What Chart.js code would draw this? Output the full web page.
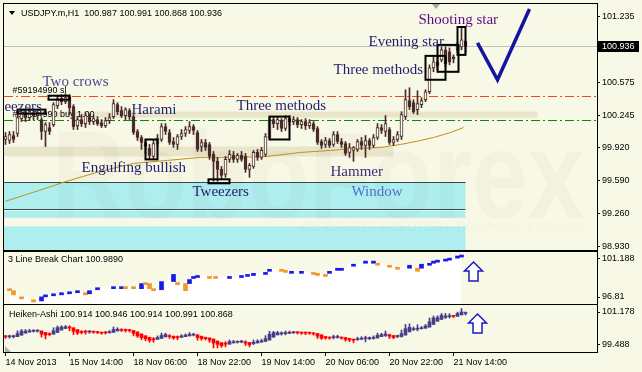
<!DOCTYPE html>
<html>
<head>
<meta charset="utf-8">
<script src="https://cdn.jsdelivr.net/npm/chart.js@4.4.0/dist/chart.umd.min.js"></script>
<style>
  html, body { margin: 0; padding: 0; background: #f8f8e6; }
  #wrap { position: relative; width: 642px; height: 372px; overflow: hidden; background: #f8f8e6; }
  #wrap canvas { position: absolute; left: 0; }
</style>
</head>
<body>
<div id="wrap">
  <canvas id="main" width="642" height="251" style="top:0"></canvas>
  <canvas id="lbreak" width="642" height="53" style="top:251px"></canvas>
  <canvas id="heiken" width="642" height="68" style="top:304px"></canvas>
</div>
<script>
// ---- data ----
const symbol = 'USDJPY.m,H1';
const timeLabels = ['14 Nov 2013', '15 Nov 14:00', '18 Nov 06:00', '18 Nov 22:00',
                    '19 Nov 14:00', '20 Nov 06:00', '20 Nov 22:00', '21 Nov 14:00'];
const barsPerLabel = 16;

const opens = [100.00, 99.99, 100.04, 100.06, 100.21, 100.27, 100.22, 100.27, 100.24, 100.20,
  100.08, 100.12, 100.15, 100.34, 100.41, 100.38, 100.43, 100.33, 100.14, 100.20,
  100.16, 100.23, 100.18, 100.20, 100.17, 100.14, 100.19, 100.23, 100.35, 100.29,
  100.24, 100.29, 100.23, 100.08, 100.02, 99.97, 99.91, 99.83, 99.96, 100.00,
  100.13, 100.07, 99.98, 99.95, 100.03, 100.06, 100.09, 100.13, 100.07, 99.93,
  99.97, 99.95, 99.85, 99.78, 99.70, 99.65, 99.80, 99.84, 99.80, 99.84,
  99.83, 99.70, 99.73, 99.87, 99.82, 99.85, 100.02, 100.20, 100.16, 100.19,
  100.11, 100.21, 100.18, 100.20, 100.15, 100.18, 100.14, 100.16, 100.11, 99.98,
  99.95, 99.99, 99.95, 100.05, 99.98, 99.96, 99.87, 99.89, 99.90, 99.98,
  99.94, 99.99, 99.94, 100.02, 100.12, 100.08, 100.10, 99.97, 100.00, 100.03,
  100.23, 100.39, 100.37, 100.30, 100.35, 100.40, 100.48, 100.72, 100.78, 100.80,
  100.90, 100.88, 100.83, 100.90, 100.93, 100.987];
const highs = [100.07, 100.08, 100.08, 100.25, 100.30, 100.30, 100.31, 100.30, 100.29, 100.22,
  100.17, 100.17, 100.37, 100.44, 100.45, 100.46, 100.45, 100.35, 100.23, 100.25,
  100.27, 100.26, 100.24, 100.23, 100.20, 100.22, 100.26, 100.40, 100.37, 100.33,
  100.32, 100.31, 100.25, 100.10, 100.04, 100.00, 99.95, 99.99, 100.05, 100.16,
  100.16, 100.10, 100.02, 100.05, 100.10, 100.13, 100.18, 100.15, 100.09, 100.00,
  100.00, 99.97, 99.88, 99.82, 99.73, 99.83, 99.89, 99.88, 99.86, 99.88,
  99.86, 99.76, 99.89, 99.90, 99.92, 100.06, 100.23, 100.23, 100.23, 100.21,
  100.24, 100.24, 100.23, 100.22, 100.20, 100.21, 100.20, 100.18, 100.13, 100.00,
  100.02, 100.01, 100.08, 100.08, 100.01, 99.98, 99.96, 99.93, 100.00, 100.02,
  100.04, 100.01, 100.05, 100.16, 100.15, 100.24, 100.12, 100.03, 100.08, 100.28,
  100.50, 100.52, 100.40, 100.49, 100.42, 100.50, 100.75, 100.83, 100.84, 100.93,
  100.93, 100.92, 100.85, 100.98, 101.12, 100.991];
const lows = [99.95, 99.96, 99.97, 100.03, 100.18, 100.18, 100.19, 100.20, 100.20, 100.00,
  99.93, 100.05, 100.13, 100.31, 100.35, 100.36, 100.25, 100.10, 100.10, 100.13,
  100.12, 100.15, 100.15, 100.14, 100.12, 100.12, 100.16, 100.21, 100.25, 100.22,
  100.20, 100.20, 100.05, 99.99, 99.90, 99.86, 99.80, 99.80, 99.93, 99.98,
  100.05, 99.95, 99.92, 99.90, 100.00, 100.03, 100.06, 100.05, 99.88, 99.88,
  99.89, 99.80, 99.58, 99.58, 99.60, 99.62, 99.77, 99.77, 99.77, 99.78,
  99.67, 99.62, 99.71, 99.79, 99.80, 99.83, 100.00, 100.12, 100.10, 100.08,
  100.09, 100.14, 100.15, 100.12, 100.11, 100.10, 100.11, 100.08, 99.95, 99.91,
  99.92, 99.92, 99.93, 99.96, 99.92, 99.84, 99.82, 99.78, 99.88, 99.90,
  99.82, 99.90, 99.92, 100.00, 100.06, 100.03, 99.95, 99.94, 99.98, 100.00,
  100.20, 100.30, 100.26, 100.25, 100.32, 100.38, 100.46, 100.68, 100.70, 100.78,
  100.73, 100.75, 100.77, 100.88, 100.90, 100.868];
const closes = [100.03, 100.05, 100.00, 100.22, 100.27, 100.22, 100.28, 100.24, 100.27, 100.08,
  100.15, 100.08, 100.35, 100.41, 100.38, 100.42, 100.32, 100.13, 100.20, 100.16,
  100.24, 100.18, 100.21, 100.16, 100.14, 100.19, 100.22, 100.36, 100.28, 100.24,
  100.30, 100.23, 100.07, 100.02, 99.97, 99.93, 99.84, 99.96, 100.01, 100.13,
  100.08, 99.97, 99.95, 100.03, 100.06, 100.10, 100.13, 100.09, 99.90, 99.97,
  99.92, 99.83, 99.78, 99.70, 99.64, 99.80, 99.85, 99.80, 99.84, 99.80,
  99.70, 99.74, 99.87, 99.82, 99.89, 100.03, 100.20, 100.16, 100.20, 100.11,
  100.21, 100.18, 100.20, 100.15, 100.18, 100.14, 100.17, 100.10, 99.97, 99.94,
  99.99, 99.94, 100.05, 99.98, 99.95, 99.86, 99.92, 99.92, 99.98, 99.94,
  99.99, 99.94, 100.02, 100.12, 100.09, 100.16, 99.97, 100.00, 100.05, 100.25,
  100.40, 100.33, 100.28, 100.36, 100.39, 100.48, 100.72, 100.78, 100.74, 100.90,
  100.76, 100.78, 100.81, 100.95, 101.00, 100.936];

// moving average, sampled where it can be read
const maIdx = [0, 7, 14.5, 19.5, 23.75, 32, 40.5, 48.75, 57, 65.5, 73.75, 81.25, 87, 93.75, 98.75, 103.75, 107, 111.25, 114.5];
const maVal = [99.38, 99.47, 99.57, 99.63, 99.68, 99.76, 99.79, 99.82, 99.82, 99.83, 99.87, 99.89, 99.91, 99.92, 99.95, 99.99, 100.02, 100.07, 100.12];

const priceTicks = [98.930, 99.260, 99.590, 99.920, 100.245, 100.575, 101.235];
const slPrice = 100.433;
const buyPrice = 100.197;
const orderLabels = ['#59194990 sl', '#59194990 buy 1.00'];

// chart objects: [fromIdx, toIdx, topPrice, bottomPrice]
const priceZones = [[-0.375, 115, 99.573, 99.300], [-0.375, 115, 99.283, 99.213], [-0.375, 115, 99.127, 98.880]];
const beigeBands = [[10, 133, 100.28, 100.22], [-0.375, 97, 99.93, 99.83]];
const patternBoxes = [[3, 10, 100.30, 100.26], [10.75, 16, 100.44, 100.40], [35, 38, 100.00, 99.80],
  [50.75, 56, 99.60, 99.56], [66, 71, 100.23, 100.00], [105, 110, 100.84, 100.60],
  [108, 113.25, 100.95, 100.68], [113, 115, 101.13, 100.85]];
const patternNames = ['Two crows', 'Tweezers', 'Harami', 'Three methods', 'Engulfing bullish', 'Tweezers',
  'Hammer', 'Window', 'Three methods', 'Evening star', 'Shooting star'];
const patternIdx = [9.25, -5, 31.5, 57.75, 19, 46.75, 81.25, 86.5, 82, 90.75, 103.25];
const patternAt = [100.58, 100.33, 100.30, 100.34, 99.71, 99.47, 99.67, 99.47, 100.70, 100.98, 101.20];
const patternColors = ['#4a4a96', '#1e1e6e', '#1e1e6e', '#1e1e6e', '#1e1e6e', '#1e1e6e',
  '#3e2e78', '#4c70d0', '#1e1e6e', '#1e1e6e', '#5c0c86'];
const checkIdx = [118, 123, 131];
const checkVal = [100.97, 100.60, 101.31];

// 3 line break panel
const lbTitle = '3 Line Break Chart 100.9890';
const lbRange = [96.81, 101.188];
const lbIdx = [1, 2, 4, 7, 9, 10, 12, 14, 16, 18, 20, 21, 23, 27, 29, 30, 32, 34, 35, 36, 37, 39, 42, 43, 45,
  46, 47, 48, 51, 52.5, 56, 59, 60.5, 62, 65, 66, 69, 70, 71.5, 74, 77, 78, 80, 81, 83, 84, 87, 90, 92, 93,
  96, 98, 101, 103, 104, 106, 107, 108, 110, 111, 113, 114];
const lbHigh = [98.10, 97.93, 97.41, 97.16, 97.41, 97.58, 97.67, 97.76, 97.84, 97.93, 97.76, 97.93, 98.18, 98.27,
  98.27, 98.27, 98.27, 98.53, 98.61, 98.53, 98.10, 98.70, 99.30, 98.61, 98.53, 98.87, 99.13, 99.21, 99.13,
  99.13, 99.13, 99.21, 99.30, 99.39, 99.47, 99.73, 99.73, 99.64, 99.56, 99.56, 99.47, 99.39, 99.30, 99.56,
  99.82, 99.82, 100.16, 100.42, 100.42, 100.24, 100.07, 99.90, 100.07, 99.82, 100.16, 100.24, 100.42, 100.50,
  100.59, 100.67, 100.85, 100.93];
const lbLow = [97.93, 97.58, 97.24, 96.98, 97.07, 97.41, 97.50, 97.58, 97.67, 97.76, 97.58, 97.67, 98.01, 98.10,
  98.10, 98.10, 98.10, 98.10, 98.44, 98.10, 97.93, 98.01, 98.70, 98.44, 97.93, 98.53, 98.96, 99.04, 98.96,
  98.96, 98.96, 99.04, 99.13, 99.21, 99.30, 99.56, 99.56, 99.47, 99.39, 99.39, 99.30, 99.21, 99.13, 99.39,
  99.64, 99.64, 99.99, 100.24, 100.24, 100.07, 99.90, 99.73, 99.82, 99.56, 99.82, 100.07, 100.24, 100.33,
  100.42, 100.50, 100.67, 100.76];
const lbUp = [0, 0, 0, 0, 1, 1, 1, 1, 1, 1, 0, 1, 1, 1, 1, 0, 0, 1, 0, 0, 0, 1, 1, 0, 0,
  1, 1, 1, 0, 0, 1, 1, 1, 1, 1, 1, 0, 0, 1, 1, 0, 0, 0, 1, 1, 1, 1, 1, 1, 0,
  0, 0, 1, 0, 1, 1, 1, 1, 1, 1, 1, 1];

// heiken-ashi panel
const haTitle = 'Heiken-Ashi 100.914 100.946 100.914 100.991 100.868';
const haRange = [99.42, 101.26];
const haScaleText = ['101.178', '99.488'];

// ---- derived series ----
const haOpen = [], haClose = [], haHigh = [], haLow = [];
for (let i = 0; i < closes.length; i++) {
  const c = (opens[i] + highs[i] + lows[i] + closes[i]) / 4;
  const o = i === 0 ? (opens[0] + closes[0]) / 2 : (haOpen[i - 1] + haClose[i - 1]) / 2;
  haOpen.push(o);
  haClose.push(c);
  haHigh.push(Math.max(highs[i], o, c));
  haLow.push(Math.min(lows[i], o, c));
}

// ---- look ----
const xMin = -0.375, xMax = 147.875;
const candleDark = '#4a2a2a';
const serif = '15px "Liberation Serif", "Times New Roman", serif';
const sans = '9px "Liberation Sans", Arial, sans-serif';

Chart.defaults.font.family = '"Liberation Sans", Arial, sans-serif';
Chart.defaults.font.size = 9;
Chart.defaults.color = '#000';
Chart.defaults.animation = false;
Chart.defaults.plugins.legend.display = false;
Chart.defaults.plugins.tooltip.enabled = false;

function xAxis(show) {
  return {
    type: 'linear', min: xMin, max: xMax, offset: false, display: show,
    afterBuildTicks: s => { s.ticks = timeLabels.map((_, k) => ({ value: k * barsPerLabel })); },
    ticks: { autoSkip: false, maxRotation: 0, align: 'start', padding: 1,
      callback: v => timeLabels[Math.round(v / barsPerLabel)] },
    grid: { offset: false, drawOnChartArea: false, tickLength: 4, color: '#000' },
    border: { display: false },
    afterFit: s => {
      s.height = show ? 20 : 0;
      s.paddingLeft = 0; s.paddingRight = 0;
    }
  };
}

// sub windows show their top/bottom value just inside the edge
function insetTicks(s) {
  const inset = 7 * (s.max - s.min) / Math.max(s.height || 50, 1);
  s.ticks = [{ value: s.min + inset }, { value: s.max - inset }];
}

function yAxis(min, max, buildTicks, label) {
  return {
    type: 'linear', position: 'right', min, max,
    afterBuildTicks: buildTicks,
    ticks: { padding: 2, autoSkip: false, callback: label },
    grid: { drawOnChartArea: false, tickLength: 3, color: '#000' },
    border: { display: false },
    afterFit: s => {
      s.width = 45;
      s.paddingTop = 0; s.paddingBottom = 0;
    }
  };
}

function framePlugin(id) {
  return {
    id,
    afterDraw(chart) {
      const a = chart.chartArea, ctx = chart.ctx;
      ctx.save();
      ctx.strokeStyle = '#000';
      ctx.lineWidth = 1;
      ctx.strokeRect(a.left - 0.5, a.top - 0.5, a.right - a.left + 1, a.bottom - a.top + 1);
      ctx.restore();
    }
  };
}

function drawUpArrow(ctx, cx, top) {
  ctx.save();
  ctx.beginPath();
  ctx.moveTo(cx, top);
  ctx.lineTo(cx + 9, top + 9);
  ctx.lineTo(cx + 4.5, top + 9);
  ctx.lineTo(cx + 4.5, top + 19);
  ctx.lineTo(cx - 4.5, top + 19);
  ctx.lineTo(cx - 4.5, top + 9);
  ctx.lineTo(cx - 9, top + 9);
  ctx.closePath();
  ctx.fillStyle = '#ffffff';
  ctx.fill();
  ctx.strokeStyle = '#1a1ac8';
  ctx.lineWidth = 1.5;
  ctx.stroke();
  ctx.restore();
}

// ---- main window ----
const mainOverlay = {
  id: 'mainOverlay',
  beforeDatasetsDraw(chart) {
    const { ctx, chartArea: a, scales: { x, y } } = chart;
    ctx.save();
    ctx.beginPath();
    ctx.rect(a.left, a.top, a.right - a.left, a.bottom - a.top);
    ctx.clip();

    priceZones.forEach(z => {
      const x0 = x.getPixelForValue(z[0]), x1 = x.getPixelForValue(z[1]);
      const y0 = y.getPixelForValue(z[2]), y1 = y.getPixelForValue(z[3]);
      ctx.fillStyle = '#afeeee';
      ctx.fillRect(x0, y0, x1 - x0, y1 - y0);
    });
    // edges of the window zone
    const z0 = priceZones[0];
    ctx.strokeStyle = '#2f4f4f';
    ctx.lineWidth = 1;
    [z0[2], z0[3]].forEach(v => {
      const yy = Math.round(y.getPixelForValue(v)) + 0.5;
      ctx.beginPath();
      ctx.moveTo(x.getPixelForValue(z0[0]), yy);
      ctx.lineTo(x.getPixelForValue(z0[1]), yy);
      ctx.stroke();
    });

    beigeBands.forEach(b => {
      const x0 = x.getPixelForValue(b[0]), x1 = x.getPixelForValue(b[1]);
      const y0 = y.getPixelForValue(b[2]), y1 = y.getPixelForValue(b[3]);
      ctx.fillStyle = 'rgba(222,216,184,0.6)';
      ctx.fillRect(x0, y0, x1 - x0, y1 - y0);
    });

    // watermark
    ctx.fillStyle = 'rgba(60,60,40,0.03)';
    ctx.font = 'bold 125px "Liberation Sans", Arial, sans-serif';
    ctx.textBaseline = 'alphabetic';
    ctx.textAlign = 'left';
    ctx.fillText('RoboForex', 52, 218, 532);
    ctx.fillStyle = 'rgba(60,60,40,0.025)';
    ctx.font = '13px "Liberation Sans", Arial, sans-serif';
    ctx.textAlign = 'right';
    ctx.fillText('ИСПОЛЬЗУЙ РОБОТОВ – ПОЛУЧАЙ ПРИБЫЛЬ', 584, 231, 285);

    // current price, stop loss and order lines
    const cy = Math.round(y.getPixelForValue(closes[closes.length - 1])) + 0.5;
    ctx.strokeStyle = '#c0c0c0';
    ctx.setLineDash([]);
    ctx.beginPath(); ctx.moveTo(a.left, cy); ctx.lineTo(a.right, cy); ctx.stroke();

    [[slPrice, '#f04a18'], [buyPrice, '#009000']].forEach(([v, c]) => {
      const yy = Math.round(y.getPixelForValue(v)) + 0.5;
      ctx.strokeStyle = c;
      ctx.setLineDash([9, 3, 2, 3]);
      ctx.beginPath(); ctx.moveTo(a.left, yy); ctx.lineTo(a.right, yy); ctx.stroke();
    });
    ctx.setLineDash([]);

    ctx.font = sans;
    ctx.fillStyle = '#000';
    ctx.textAlign = 'left';
    ctx.textBaseline = 'bottom';
    ctx.fillText(orderLabels[0], x.getPixelForValue(1.75), y.getPixelForValue(slPrice) - 1);
    ctx.fillText(orderLabels[1], x.getPixelForValue(1.75), y.getPixelForValue(buyPrice) - 1);
    ctx.restore();
  },
  afterDatasetsDraw(chart) {
    const { ctx, chartArea: a, scales: { x, y } } = chart;
    ctx.save();
    ctx.beginPath();
    ctx.rect(a.left, a.top, a.right - a.left, a.bottom - a.top);
    ctx.clip();

    ctx.strokeStyle = '#000';
    ctx.lineWidth = 2;
    patternBoxes.forEach(b => {
      const x0 = x.getPixelForValue(b[0]), x1 = x.getPixelForValue(b[1]);
      const y0 = y.getPixelForValue(b[2]), y1 = y.getPixelForValue(b[3]);
      ctx.strokeRect(x0, y0, x1 - x0, y1 - y0);
    });

    ctx.font = serif;
    ctx.textAlign = 'left';
    ctx.textBaseline = 'middle';
    patternNames.forEach((t, k) => {
      ctx.fillStyle = patternColors[k];
      ctx.fillText(t, x.getPixelForValue(patternIdx[k]), y.getPixelForValue(patternAt[k]));
    });

    // forecast tick
    ctx.strokeStyle = '#1414a0';
    ctx.lineWidth = 3.5;
    ctx.lineJoin = 'miter';
    ctx.beginPath();
    checkIdx.forEach((v, k) => {
      const px = x.getPixelForValue(v), py = y.getPixelForValue(checkVal[k]);
      if (k === 0) ctx.moveTo(px, py); else ctx.lineTo(px, py);
    });
    ctx.stroke();

    // chart shift marker
    ctx.fillStyle = '#a8a8a8';
    ctx.beginPath();
    ctx.moveTo(a.right - 165, a.top);
    ctx.lineTo(a.right - 157, a.top);
    ctx.lineTo(a.right - 161, a.top + 5);
    ctx.closePath();
    ctx.fill();
    ctx.restore();
  },
  afterDraw(chart) {
    const { ctx, chartArea: a, scales: { y } } = chart;
    const n = closes.length - 1;
    ctx.save();
    // price tag
    const cy = Math.round(y.getPixelForValue(closes[n]));
    ctx.fillStyle = '#000';
    ctx.fillRect(a.right + 1, cy - 5, 41, 11);
    ctx.fillStyle = '#fff';
    ctx.font = sans;
    ctx.textAlign = 'left';
    ctx.textBaseline = 'middle';
    ctx.fillText(closes[n].toFixed(3), a.right + 5, cy + 0.5);

    // header
    ctx.fillStyle = '#000';
    ctx.beginPath();
    ctx.moveTo(a.left + 5, a.top + 7);
    ctx.lineTo(a.left + 11, a.top + 7);
    ctx.lineTo(a.left + 8, a.top + 11);
    ctx.closePath();
    ctx.fill();
    const head = symbol + '  ' + [opens[n], highs[n], lows[n], closes[n]].map(v => v.toFixed(3)).join(' ');
    ctx.fillText(head, a.left + 17, a.top + 9.5);
    ctx.restore();
  }
};

const candleIdx = closes.map((_, i) => i);

new Chart(document.getElementById('main'), {
  type: 'bar',
  data: {
    datasets: [
      {
        label: 'body', order: 0, grouped: false, barThickness: 3, minBarLength: 1,
        borderWidth: 1, borderSkipped: false, borderColor: candleDark,
        backgroundColor: candleIdx.map(i => closes[i] >= opens[i] ? '#fffff0' : candleDark),
        data: candleIdx.map(i => ({ x: i, y: [Math.min(opens[i], closes[i]), Math.max(opens[i], closes[i])] }))
      },
      {
        label: 'wick', order: 1, grouped: false, barThickness: 1, backgroundColor: candleDark,
        data: candleIdx.map(i => ({ x: i, y: [lows[i], highs[i]] }))
      },
      {
        type: 'line', label: 'MA', order: 2, borderColor: '#c0901a', borderWidth: 1,
        pointRadius: 0, fill: false, tension: 0,
        data: maIdx.map((v, k) => ({ x: v, y: maVal[k] }))
      }
    ]
  },
  options: {
    responsive: false,
    layout: { padding: { left: 4, top: 4, right: 0, bottom: 1 } },
    scales: {
      x: xAxis(false),
      y: yAxis(98.890, 101.361,
        s => { s.ticks = priceTicks.map(v => ({ value: v })); },
        v => v.toFixed(3))
    }
  },
  plugins: [mainOverlay, framePlugin('mainFrame')]
});

// ---- 3 line break window ----
const lbOverlay = {
  id: 'lbOverlay',
  afterDraw(chart) {
    const { ctx, chartArea: a, scales: { x } } = chart;
    ctx.save();
    ctx.font = sans;
    ctx.fillStyle = '#000';
    ctx.textAlign = 'left';
    ctx.textBaseline = 'middle';
    ctx.fillText(lbTitle, a.left + 4, a.top + 8);
    drawUpArrow(ctx, x.getPixelForValue(117), a.top + 10);
    ctx.restore();
  }
};

new Chart(document.getElementById('lbreak'), {
  type: 'bar',
  data: {
    datasets: [
      {
        label: 'bricks', order: 0, grouped: false, barThickness: 4, minBarLength: 2,
        backgroundColor: lbUp.map(u => u ? '#1a1ae6' : '#f0962a'),
        data: lbIdx.map((v, k) => ({ x: v, y: [lbLow[k], lbHigh[k]] }))
      },
      {
        type: 'line', label: 'level', order: 1, stepped: 'middle', borderWidth: 0, pointRadius: 0,
        fill: 'start', backgroundColor: '#ffffff',
        data: lbIdx.map((v, k) => ({ x: v, y: lbHigh[k] }))
      }
    ]
  },
  options: {
    responsive: false,
    layout: { padding: { left: 4, top: 1, right: 0, bottom: 0 } },
    scales: {
      x: xAxis(false),
      y: yAxis(lbRange[0], lbRange[1], insetTicks,
        v => v > (lbRange[0] + lbRange[1]) / 2 ? lbRange[1].toFixed(3) : String(lbRange[0]))
    }
  },
  plugins: [lbOverlay, framePlugin('lbFrame')]
});

// ---- heiken ashi window ----
const haOverlay = {
  id: 'haOverlay',
  afterDraw(chart) {
    const { ctx, chartArea: a, scales: { x } } = chart;
    ctx.save();
    ctx.font = sans;
    ctx.fillStyle = '#000';
    ctx.textAlign = 'left';
    ctx.textBaseline = 'middle';
    ctx.fillText(haTitle, a.left + 5, a.top + 10);
    drawUpArrow(ctx, x.getPixelForValue(118), a.top + 9);
    ctx.fillStyle = '#b0b0b0';
    ctx.beginPath();
    ctx.moveTo(a.left + 1, a.bottom - 6);
    ctx.lineTo(a.left + 1, a.bottom);
    ctx.lineTo(a.left + 7, a.bottom);
    ctx.closePath();
    ctx.fill();
    ctx.restore();
  }
};

const haColors = candleIdx.map(i => haClose[i] >= haOpen[i] ? '#483d8b' : '#ff0000');

new Chart(document.getElementById('heiken'), {
  type: 'bar',
  data: {
    datasets: [
      {
        label: 'haBody', order: 0, grouped: false, barThickness: 3, minBarLength: 1,
        backgroundColor: haColors,
        data: candleIdx.map(i => ({ x: i, y: [Math.min(haOpen[i], haClose[i]), Math.max(haOpen[i], haClose[i])] }))
      },
      {
        label: 'haWick', order: 1, grouped: false, barThickness: 1,
        backgroundColor: haColors,
        data: candleIdx.map(i => ({ x: i, y: [haLow[i], haHigh[i]] }))
      }
    ]
  },
  options: {
    responsive: false,
    layout: { padding: { left: 4, top: 1, right: 0, bottom: 0 } },
    scales: {
      x: xAxis(true),
      y: yAxis(haRange[0], haRange[1], insetTicks,
        v => v > (haRange[0] + haRange[1]) / 2 ? haScaleText[0] : haScaleText[1])
    }
  },
  plugins: [haOverlay, framePlugin('haFrame')]
});
</script>
</body>
</html>
